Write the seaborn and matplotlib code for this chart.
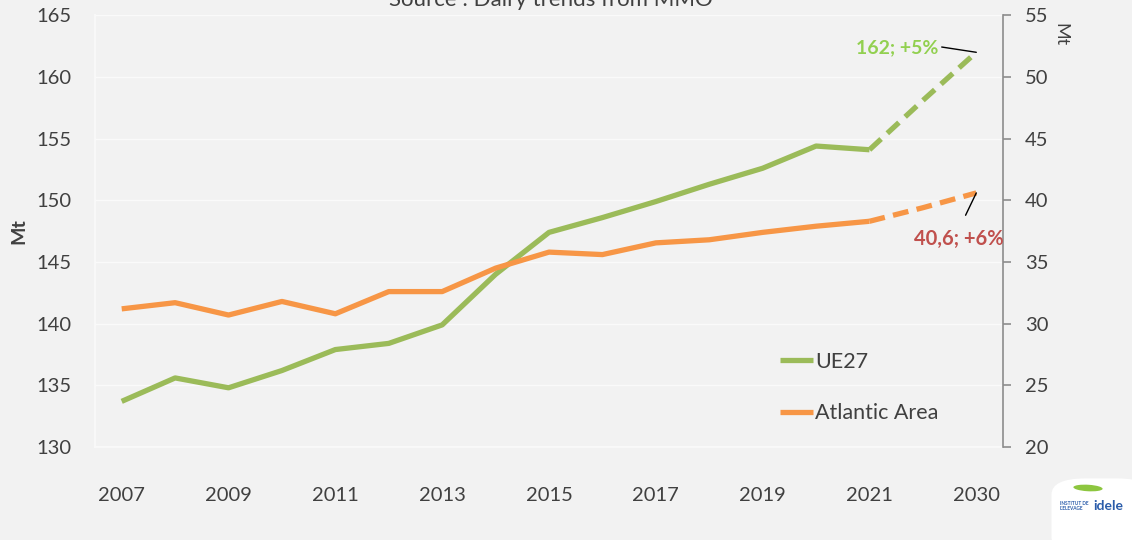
import matplotlib
matplotlib.use("Agg")
import matplotlib.pyplot as plt
import matplotlib.patches as mpatches
import seaborn as sns
import pandas as pd
import numpy as np

# ---- data ----
years = ["2007", "2008", "2009", "2010", "2011", "2012", "2013", "2014", "2015",
         "2016", "2017", "2018", "2019", "2020", "2021", "2022", "2030"]
ue27 = [133.7, 135.6, 134.8, 136.2, 137.9, 138.4, 139.9, 144.0, 147.4,
        148.6, 149.9, 151.3, 152.6, 154.4, 154.1, 158.1, 162.0]
atlantic = [31.2, 31.7, 30.7, 31.8, 30.8, 32.6, 32.6, 34.5, 35.8,
            35.6, 36.55, 36.8, 37.4, 37.9, 38.3, 39.4, 40.6]
n_hist = 15  # 2007..2021 observed, rest projection
shown_labels = ["2007", "2009", "2011", "2013", "2015", "2017", "2019", "2021", "2030"]
left_ticks = [130, 135, 140, 145, 150, 155, 160, 165]
right_ticks = [20, 25, 30, 35, 40, 45, 50, 55]

GREEN = "#9BBB59"
ORANGE = "#F79646"
BG = "#F2F2F2"
TXT = "#404040"

sns.set_theme(style="white")
plt.rcParams['font.family'] = ['Lato', 'DejaVu Sans']

df = pd.DataFrame({"x": np.arange(len(years)), "year": years,
                   "UE27": ue27, "Atlantic": atlantic})
hist = df.iloc[:n_hist]
proj = df.iloc[n_hist - 1:]

fig = plt.figure(figsize=(11.32, 5.40), dpi=100, facecolor=BG)
ax = fig.add_axes([95 / 1132, 1 - 447 / 540, (1003 - 95) / 1132, (447 - 15.3) / 540])
ax.set_facecolor(BG)
ax2 = ax.twinx()

sns.lineplot(data=hist, x="x", y="UE27", ax=ax, color=GREEN, lw=3.8,
             label="UE27", legend=False, solid_capstyle="butt")
sns.lineplot(data=proj, x="x", y="UE27", ax=ax, color=GREEN, lw=3.8,
             legend=False, dashes=False, linestyle=(0, (3, 1.6)))
sns.lineplot(data=hist, x="x", y="Atlantic", ax=ax2, color=ORANGE, lw=3.8,
             label="Atlantic Area", legend=False, solid_capstyle="butt")
sns.lineplot(data=proj, x="x", y="Atlantic", ax=ax2, color=ORANGE, lw=3.8,
             legend=False, dashes=False, linestyle=(0, (3, 1.6)))

# axes limits / ticks
ax.set_xlim(-0.5, len(years) - 0.5)
ax.set_ylim(130, 165)
ax2.set_ylim(20, 55)
ax.set_yticks(left_ticks)
ax2.set_yticks(right_ticks)
ax.set_yticklabels([str(t) for t in left_ticks], fontsize=14.5, color=TXT)
ax2.set_yticklabels([str(t) for t in right_ticks], fontsize=14.5, color=TXT)
ax.tick_params(axis="y", length=0, pad=17)
ax2.tick_params(axis="y", length=6, width=1.2, color="#8C8C8C", pad=10, direction="out")

pos = [years.index(l) for l in shown_labels]
ax.set_xticks(pos)
ax.set_xticklabels(shown_labels, fontsize=14.5, color=TXT)
ax.set_xticks(np.arange(-0.5, len(years)), minor=True)
ax.tick_params(axis="x", which="major", length=0, pad=29)
ax.tick_params(axis="x", which="minor", length=7, width=1, color="#FAFAFA", direction="out")

ax.grid(axis="y", color="#FAFAFA", lw=1)
ax.set_axisbelow(True)

for a in (ax, ax2):
    for s in ("top", "right", "left", "bottom"):
        a.spines[s].set_visible(False)
ax.spines["left"].set_visible(True)
ax.spines["left"].set_color("#FAFAFA")
ax.spines["bottom"].set_visible(True)
ax.spines["bottom"].set_color("#FAFAFA")
ax2.spines["right"].set_visible(True)
ax2.spines["right"].set_color("#8C8C8C")
ax2.spines["right"].set_linewidth(1.2)

ax.set_xlabel("")
ax.set_ylabel("Mt", fontsize=14, fontweight="bold", color=TXT)
ax.yaxis.set_label_coords(-0.074, 0.5)
ax2.set_ylabel("Mt", fontsize=13, color=TXT, rotation=270)
ax2.yaxis.set_label_coords(1.072, 0.955)

# annotations
last = len(years) - 1
ax.annotate("162; +5%", xy=(last, ue27[-1]), xytext=(last - 1.48, ue27[-1] + 0.4),
            fontsize=14, fontweight="bold", color="#92D050", ha="center", va="center",
            arrowprops=dict(arrowstyle="-", color="black", lw=1,
                            shrinkA=0, shrinkB=0, relpos=(1.0, 0.55)))
ax2.annotate("40,6; +6%", xy=(last, atlantic[-1]), xytext=(last - 0.32, atlantic[-1] - 3.7),
             fontsize=14.5, fontweight="bold", color="#C0504D", ha="center", va="center",
             arrowprops=dict(arrowstyle="-", color="black", lw=1,
                             shrinkA=8, shrinkB=0, relpos=(0.5, 1.0)))

# legend
h1, l1 = ax.get_legend_handles_labels()
h2, l2 = ax2.get_legend_handles_labels()
leg = ax.legend(h1 + h2, l1 + l2, loc="upper left", bbox_to_anchor=(0.733, 0.265),
                frameon=False, fontsize=15.5, handlelength=1.55, handletextpad=0.1,
                labelspacing=1.45, labelcolor=TXT)

# title (cut off at top, as in the reference)
fig.text(0.487, 1.0, "Source : Dairy trends from MMO", fontsize=16, color=TXT,
         ha="center", va="center")

# logo
logo = mpatches.FancyBboxPatch((1056 / 1132, -0.02), 0.08, 0.13, transform=fig.transFigure,
                               boxstyle="round,pad=0.004,rounding_size=0.03",
                               fc="white", ec="none")
fig.patches.append(logo)
fig.patches.append(mpatches.Ellipse((1088 / 1132, 1 - 488 / 540), 0.026, 0.012,
                                    angle=-8, transform=fig.transFigure,
                                    fc="#8DC63F", ec="none"))
fig.text(1060 / 1132, 1 - 506 / 540, "INSTITUT DE\nL'ELEVAGE", fontsize=3.4,
         color="#2A5CAA", fontweight="bold", va="center", ha="left", linespacing=0.9)
fig.text(1093 / 1132, 1 - 506 / 540, "idele", fontsize=10, color="#2A5CAA",
         fontweight="bold", va="center", ha="left")

fig.savefig("out.png", dpi=100, facecolor=BG)
